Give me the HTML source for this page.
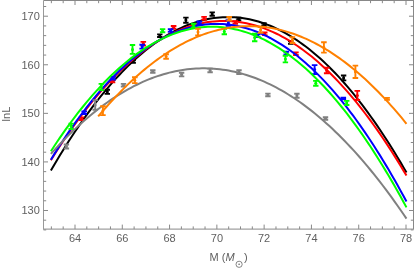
<!DOCTYPE html><html><head><meta charset="utf-8"><style>html,body{margin:0;padding:0;background:#fff;overflow:hidden}svg{display:block}</style></head><body><svg width="415" height="269" viewBox="0 0 415 269">
<rect width="415" height="269" fill="#fff"/>
<g><path d="M107.3 89.7V93.9M104.6 89.7h5.4M104.6 93.9h5.4M133.2 60.3V62.9M130.5 60.3h5.4M130.5 62.9h5.4M159.8 34.4V37.0M157.1 34.4h5.4M157.1 37.0h5.4M185.9 17.6V22.7M183.2 17.6h5.4M183.2 22.7h5.4M212.2 12.4V15.7M209.5 12.4h5.4M209.5 15.7h5.4M238.6 17.6V20.2M235.9 17.6h5.4M235.9 20.2h5.4M264.0 23.2V25.8M261.3 23.2h5.4M261.3 25.8h5.4M290.7 41.1V43.7M288.0 41.1h5.4M288.0 43.7h5.4M343.6 75.5V80.4M340.9 75.5h5.4M340.9 80.4h5.4" stroke="#000" stroke-width="1.9" fill="none"/><circle cx="107.3" cy="91.8" r="1.5" fill="#000"/><circle cx="133.2" cy="61.6" r="1.5" fill="#000"/><circle cx="159.8" cy="35.7" r="1.5" fill="#000"/><circle cx="185.9" cy="20.1" r="1.5" fill="#000"/><circle cx="212.2" cy="14.1" r="1.5" fill="#000"/><circle cx="238.6" cy="18.9" r="1.5" fill="#000"/><circle cx="264.0" cy="24.5" r="1.5" fill="#000"/><circle cx="290.7" cy="42.4" r="1.5" fill="#000"/><circle cx="343.6" cy="77.9" r="1.5" fill="#000"/><path d="M50.88 170.52 L53.85 165.43 L56.81 160.43 L59.77 155.51 L62.74 150.68 L65.70 145.94 L68.66 141.28 L71.63 136.71 L74.59 132.22 L77.55 127.82 L80.52 123.50 L83.48 119.27 L86.44 115.13 L89.41 111.07 L92.37 107.10 L95.33 103.21 L98.30 99.41 L101.26 95.69 L104.22 92.06 L107.19 88.52 L110.15 85.06 L113.11 81.69 L116.08 78.41 L119.04 75.21 L122.00 72.09 L124.97 69.06 L127.93 66.12 L130.89 63.26 L133.86 60.49 L136.82 57.80 L139.78 55.20 L142.75 52.69 L145.71 50.26 L148.67 47.92 L151.63 45.66 L154.60 43.49 L157.56 41.41 L160.52 39.41 L163.49 37.49 L166.45 35.67 L169.41 33.93 L172.38 32.27 L175.34 30.70 L178.30 29.21 L181.27 27.82 L184.23 26.50 L187.19 25.27 L190.16 24.13 L193.12 23.08 L196.08 22.11 L199.05 21.22 L202.01 20.43 L204.97 19.71 L207.94 19.09 L210.90 18.55 L213.86 18.09 L216.83 17.72 L219.79 17.44 L222.75 17.24 L225.72 17.13 L228.68 17.10 L231.64 17.16 L234.61 17.31 L237.57 17.54 L240.53 17.85 L243.50 18.26 L246.46 18.75 L249.42 19.32 L252.39 19.98 L255.35 20.73 L258.31 21.56 L261.28 22.48 L264.24 23.48 L267.20 24.57 L270.17 25.74 L273.13 27.00 L276.09 28.35 L279.05 29.78 L282.02 31.30 L284.98 32.90 L287.94 34.59 L290.91 36.37 L293.87 38.23 L296.83 40.18 L299.80 42.21 L302.76 44.33 L305.72 46.53 L308.69 48.82 L311.65 51.20 L314.61 53.66 L317.58 56.21 L320.54 58.84 L323.50 61.56 L326.47 64.36 L329.43 67.26 L332.39 70.23 L335.36 73.29 L338.32 76.44 L341.28 79.68 L344.25 83.00 L347.21 86.40 L350.17 89.89 L353.14 93.47 L356.10 97.13 L359.06 100.88 L362.03 104.71 L364.99 108.63 L367.95 112.64 L370.92 116.73 L373.88 120.91 L376.84 125.17 L379.81 129.52 L382.77 133.96 L385.73 138.48 L388.70 143.08 L391.66 147.78 L394.62 152.55 L397.59 157.42 L400.55 162.37 L403.51 167.40 L406.47 172.52" stroke="#000" stroke-width="2.0" fill="none" stroke-linecap="butt" stroke-linejoin="round"/></g>
<g><path d="M81.5 117.4V120.0M78.7 117.4h5.6M78.7 120.0h5.6M112.5 79.8V82.4M109.7 79.8h5.6M109.7 82.4h5.6M143.3 41.9V45.5M140.5 41.9h5.6M140.5 45.5h5.6M173.6 26.0V28.8M170.8 26.0h5.6M170.8 28.8h5.6M204.1 16.9V19.7M201.3 16.9h5.6M201.3 19.7h5.6M235.3 21.1V23.7M232.5 21.1h5.6M232.5 23.7h5.6M264.7 32.5V35.1M261.9 32.5h5.6M261.9 35.1h5.6M295.9 52.4V55.0M293.1 52.4h5.6M293.1 55.0h5.6M326.7 67.8V73.3M323.9 67.8h5.6M323.9 73.3h5.6M357.3 90.9V100.0M354.5 90.9h5.6M354.5 100.0h5.6" stroke="#f00" stroke-width="1.9" fill="none"/><circle cx="81.5" cy="118.7" r="1.5" fill="#f00"/><circle cx="112.5" cy="81.1" r="1.5" fill="#f00"/><circle cx="143.3" cy="43.7" r="1.5" fill="#f00"/><circle cx="173.6" cy="27.4" r="1.5" fill="#f00"/><circle cx="204.1" cy="18.3" r="1.5" fill="#f00"/><circle cx="235.3" cy="22.4" r="1.5" fill="#f00"/><circle cx="264.7" cy="33.8" r="1.5" fill="#f00"/><circle cx="295.9" cy="53.7" r="1.5" fill="#f00"/><circle cx="326.7" cy="70.6" r="1.5" fill="#f00"/><circle cx="357.3" cy="95.5" r="1.5" fill="#f00"/><path d="M50.88 160.16 L53.85 155.43 L56.81 150.79 L59.77 146.23 L62.74 141.74 L65.70 137.34 L68.66 133.02 L71.63 128.79 L74.59 124.63 L77.55 120.56 L80.52 116.57 L83.48 112.66 L86.44 108.83 L89.41 105.08 L92.37 101.41 L95.33 97.83 L98.30 94.33 L101.26 90.91 L104.22 87.57 L107.19 84.31 L110.15 81.13 L113.11 78.04 L116.08 75.03 L119.04 72.10 L122.00 69.25 L124.97 66.48 L127.93 63.79 L130.89 61.19 L133.86 58.66 L136.82 56.22 L139.78 53.86 L142.75 51.58 L145.71 49.39 L148.67 47.27 L151.63 45.24 L154.60 43.28 L157.56 41.41 L160.52 39.62 L163.49 37.92 L166.45 36.29 L169.41 34.75 L172.38 33.29 L175.34 31.90 L178.30 30.61 L181.27 29.39 L184.23 28.25 L187.19 27.20 L190.16 26.22 L193.12 25.33 L196.08 24.52 L199.05 23.79 L202.01 23.15 L204.97 22.58 L207.94 22.10 L210.90 21.70 L213.86 21.38 L216.83 21.14 L219.79 20.98 L222.75 20.91 L225.72 20.91 L228.68 21.00 L231.64 21.17 L234.61 21.42 L237.57 21.75 L240.53 22.17 L243.50 22.66 L246.46 23.24 L249.42 23.90 L252.39 24.64 L255.35 25.46 L258.31 26.37 L261.28 27.35 L264.24 28.42 L267.20 29.57 L270.17 30.80 L273.13 32.11 L276.09 33.50 L279.05 34.98 L282.02 36.54 L284.98 38.17 L287.94 39.89 L290.91 41.70 L293.87 43.58 L296.83 45.54 L299.80 47.59 L302.76 49.72 L305.72 51.93 L308.69 54.22 L311.65 56.59 L314.61 59.05 L317.58 61.58 L320.54 64.20 L323.50 66.90 L326.47 69.68 L329.43 72.54 L332.39 75.48 L335.36 78.51 L338.32 81.62 L341.28 84.81 L344.25 88.08 L347.21 91.43 L350.17 94.86 L353.14 98.38 L356.10 101.97 L359.06 105.65 L362.03 109.41 L364.99 113.25 L367.95 117.18 L370.92 121.18 L373.88 125.27 L376.84 129.43 L379.81 133.68 L382.77 138.01 L385.73 142.43 L388.70 146.92 L391.66 151.50 L394.62 156.16 L397.59 160.89 L400.55 165.71 L403.51 170.62 L406.47 175.60" stroke="#f00" stroke-width="2.0" fill="none" stroke-linecap="butt" stroke-linejoin="round"/></g>
<g><path d="M84.2 111.4V114.0M81.4 111.4h5.6M81.4 114.0h5.6M113.0 76.9V79.5M110.2 76.9h5.6M110.2 79.5h5.6M142.2 44.8V48.6M139.4 44.8h5.6M139.4 48.6h5.6M170.6 29.1V31.7M167.8 29.1h5.6M167.8 31.7h5.6M199.2 21.5V24.1M196.4 21.5h5.6M196.4 24.1h5.6M228.4 20.2V25.9M225.6 20.2h5.6M225.6 25.9h5.6M257.7 34.4V37.0M254.9 34.4h5.6M254.9 37.0h5.6M286.3 51.8V54.4M283.5 51.8h5.6M283.5 54.4h5.6M314.6 65.1V74.1M311.8 65.1h5.6M311.8 74.1h5.6M343.3 97.6V99.4M340.5 97.6h5.6M340.5 99.4h5.6" stroke="#00f" stroke-width="1.9" fill="none"/><circle cx="84.2" cy="112.7" r="1.5" fill="#00f"/><circle cx="113.0" cy="78.2" r="1.5" fill="#00f"/><circle cx="142.2" cy="46.7" r="1.5" fill="#00f"/><circle cx="170.6" cy="30.4" r="1.5" fill="#00f"/><circle cx="199.2" cy="22.8" r="1.5" fill="#00f"/><circle cx="228.4" cy="23.1" r="1.5" fill="#00f"/><circle cx="257.7" cy="35.7" r="1.5" fill="#00f"/><circle cx="286.3" cy="53.1" r="1.5" fill="#00f"/><circle cx="314.6" cy="69.6" r="1.5" fill="#00f"/><circle cx="343.3" cy="98.5" r="1.5" fill="#00f"/><path d="M50.88 159.67 L53.85 154.86 L56.81 150.14 L59.77 145.51 L62.74 140.96 L65.70 136.50 L68.66 132.12 L71.63 127.84 L74.59 123.63 L77.55 119.52 L80.52 115.49 L83.48 111.55 L86.44 107.70 L89.41 103.93 L92.37 100.25 L95.33 96.65 L98.30 93.14 L101.26 89.72 L104.22 86.39 L107.19 83.14 L110.15 79.98 L113.11 76.90 L116.08 73.92 L119.04 71.01 L122.00 68.20 L124.97 65.47 L127.93 62.83 L130.89 60.28 L133.86 57.81 L136.82 55.43 L139.78 53.13 L142.75 50.92 L145.71 48.80 L148.67 46.77 L151.63 44.82 L154.60 42.96 L157.56 41.19 L160.52 39.50 L163.49 37.90 L166.45 36.38 L169.41 34.95 L172.38 33.61 L175.34 32.36 L178.30 31.19 L181.27 30.11 L184.23 29.12 L187.19 28.21 L190.16 27.39 L193.12 26.65 L196.08 26.01 L199.05 25.45 L202.01 24.97 L204.97 24.58 L207.94 24.28 L210.90 24.07 L213.86 23.94 L216.83 23.90 L219.79 23.95 L222.75 24.08 L225.72 24.30 L228.68 24.60 L231.64 25.00 L234.61 25.48 L237.57 26.04 L240.53 26.69 L243.50 27.43 L246.46 28.26 L249.42 29.17 L252.39 30.17 L255.35 31.26 L258.31 32.43 L261.28 33.69 L264.24 35.04 L267.20 36.47 L270.17 37.99 L273.13 39.59 L276.09 41.29 L279.05 43.07 L282.02 44.93 L284.98 46.89 L287.94 48.93 L290.91 51.05 L293.87 53.26 L296.83 55.56 L299.80 57.95 L302.76 60.42 L305.72 62.98 L308.69 65.63 L311.65 68.36 L314.61 71.18 L317.58 74.09 L320.54 77.08 L323.50 80.16 L326.47 83.33 L329.43 86.58 L332.39 89.92 L335.36 93.35 L338.32 96.86 L341.28 100.46 L344.25 104.15 L347.21 107.92 L350.17 111.78 L353.14 115.72 L356.10 119.76 L359.06 123.88 L362.03 128.08 L364.99 132.38 L367.95 136.76 L370.92 141.22 L373.88 145.78 L376.84 150.42 L379.81 155.14 L382.77 159.96 L385.73 164.86 L388.70 169.84 L391.66 174.92 L394.62 180.08 L397.59 185.32 L400.55 190.66 L403.51 196.08 L406.47 201.58" stroke="#00f" stroke-width="2.0" fill="none" stroke-linecap="butt" stroke-linejoin="round"/></g>
<g><path d="M71.2 123.6V129.0M68.5 123.6h5.4M68.5 129.0h5.4M101.3 83.9V90.1M98.6 83.9h5.4M98.6 90.1h5.4M132.5 45.0V53.9M129.8 45.0h5.4M129.8 53.9h5.4M162.6 29.1V32.3M159.9 29.1h5.4M159.9 32.3h5.4M193.5 23.8V27.4M190.8 23.8h5.4M190.8 27.4h5.4M224.3 28.7V34.2M221.6 28.7h5.4M221.6 34.2h5.4M254.7 33.8V41.3M252.0 33.8h5.4M252.0 41.3h5.4M285.4 55.8V62.4M282.7 55.8h5.4M282.7 62.4h5.4M315.8 80.9V85.8M313.1 80.9h5.4M313.1 85.8h5.4M346.7 100.9V105.0M344.0 100.9h5.4M344.0 105.0h5.4" stroke="#0f0" stroke-width="1.9" fill="none"/><circle cx="71.2" cy="126.3" r="1.5" fill="#0f0"/><circle cx="101.3" cy="87.0" r="1.5" fill="#0f0"/><circle cx="132.5" cy="49.5" r="1.5" fill="#0f0"/><circle cx="162.6" cy="30.7" r="1.5" fill="#0f0"/><circle cx="193.5" cy="25.6" r="1.5" fill="#0f0"/><circle cx="224.3" cy="31.5" r="1.5" fill="#0f0"/><circle cx="254.7" cy="37.5" r="1.5" fill="#0f0"/><circle cx="285.4" cy="59.1" r="1.5" fill="#0f0"/><circle cx="315.8" cy="83.3" r="1.5" fill="#0f0"/><circle cx="346.7" cy="103.0" r="1.5" fill="#0f0"/><path d="M50.88 151.23 L53.85 146.70 L56.81 142.25 L59.77 137.89 L62.74 133.61 L65.70 129.41 L68.66 125.30 L71.63 121.27 L74.59 117.33 L77.55 113.47 L80.52 109.69 L83.48 106.00 L86.44 102.39 L89.41 98.87 L92.37 95.43 L95.33 92.08 L98.30 88.80 L101.26 85.62 L104.22 82.51 L107.19 79.49 L110.15 76.56 L113.11 73.71 L116.08 70.94 L119.04 68.26 L122.00 65.66 L124.97 63.14 L127.93 60.71 L130.89 58.37 L133.86 56.10 L136.82 53.92 L139.78 51.83 L142.75 49.82 L145.71 47.89 L148.67 46.05 L151.63 44.29 L154.60 42.61 L157.56 41.02 L160.52 39.52 L163.49 38.09 L166.45 36.75 L169.41 35.50 L172.38 34.33 L175.34 33.24 L178.30 32.24 L181.27 31.32 L184.23 30.49 L187.19 29.74 L190.16 29.07 L193.12 28.49 L196.08 27.99 L199.05 27.58 L202.01 27.24 L204.97 27.00 L207.94 26.84 L210.90 26.76 L213.86 26.76 L216.83 26.85 L219.79 27.03 L222.75 27.29 L225.72 27.63 L228.68 28.05 L231.64 28.56 L234.61 29.16 L237.57 29.83 L240.53 30.60 L243.50 31.44 L246.46 32.37 L249.42 33.39 L252.39 34.48 L255.35 35.67 L258.31 36.93 L261.28 38.28 L264.24 39.72 L267.20 41.24 L270.17 42.84 L273.13 44.52 L276.09 46.29 L279.05 48.15 L282.02 50.09 L284.98 52.11 L287.94 54.22 L290.91 56.41 L293.87 58.68 L296.83 61.04 L299.80 63.48 L302.76 66.01 L305.72 68.62 L308.69 71.31 L311.65 74.09 L314.61 76.96 L317.58 79.90 L320.54 82.93 L323.50 86.05 L326.47 89.25 L329.43 92.53 L332.39 95.90 L335.36 99.35 L338.32 102.88 L341.28 106.50 L344.25 110.20 L347.21 113.99 L350.17 117.86 L353.14 121.82 L356.10 125.86 L359.06 129.98 L362.03 134.19 L364.99 138.48 L367.95 142.85 L370.92 147.31 L373.88 151.86 L376.84 156.48 L379.81 161.19 L382.77 165.99 L385.73 170.87 L388.70 175.83 L391.66 180.88 L394.62 186.01 L397.59 191.23 L400.55 196.53 L403.51 201.91 L406.47 207.38" stroke="#0f0" stroke-width="2.0" fill="none" stroke-linecap="butt" stroke-linejoin="round"/></g>
<g><path d="M66.4 144.5V148.5M63.7 144.5h5.4M63.7 148.5h5.4M95.2 100.1V109.8M92.5 100.1h5.4M92.5 109.8h5.4M123.5 83.9V86.5M120.8 83.9h5.4M120.8 86.5h5.4M152.8 70.2V72.8M150.1 70.2h5.4M150.1 72.8h5.4M181.6 72.8V76.4M178.9 72.8h5.4M178.9 76.4h5.4M210.1 68.6V72.2M207.4 68.6h5.4M207.4 72.2h5.4M239.0 70.2V74.0M236.3 70.2h5.4M236.3 74.0h5.4M267.9 93.6V96.2M265.2 93.6h5.4M265.2 96.2h5.4M296.9 93.7V97.7M294.2 93.7h5.4M294.2 97.7h5.4M325.5 117.2V119.8M322.8 117.2h5.4M322.8 119.8h5.4" stroke="#808080" stroke-width="1.9" fill="none"/><circle cx="66.4" cy="146.5" r="1.5" fill="#808080"/><circle cx="95.2" cy="105.0" r="1.5" fill="#808080"/><circle cx="123.5" cy="85.2" r="1.5" fill="#808080"/><circle cx="152.8" cy="71.5" r="1.5" fill="#808080"/><circle cx="181.6" cy="74.6" r="1.5" fill="#808080"/><circle cx="210.1" cy="70.4" r="1.5" fill="#808080"/><circle cx="239.0" cy="72.1" r="1.5" fill="#808080"/><circle cx="267.9" cy="94.9" r="1.5" fill="#808080"/><circle cx="296.9" cy="95.7" r="1.5" fill="#808080"/><circle cx="325.5" cy="118.5" r="1.5" fill="#808080"/><path d="M50.88 153.85 L53.85 150.57 L56.81 147.35 L59.77 144.20 L62.74 141.11 L65.70 138.08 L68.66 135.12 L71.63 132.22 L74.59 129.39 L77.55 126.62 L80.52 123.92 L83.48 121.28 L86.44 118.70 L89.41 116.19 L92.37 113.74 L95.33 111.36 L98.30 109.04 L101.26 106.78 L104.22 104.59 L107.19 102.47 L110.15 100.41 L113.11 98.41 L116.08 96.47 L119.04 94.60 L122.00 92.80 L124.97 91.06 L127.93 89.38 L130.89 87.77 L133.86 86.22 L136.82 84.74 L139.78 83.32 L142.75 81.96 L145.71 80.67 L148.67 79.44 L151.63 78.28 L154.60 77.18 L157.56 76.15 L160.52 75.18 L163.49 74.27 L166.45 73.43 L169.41 72.65 L172.38 71.94 L175.34 71.29 L178.30 70.71 L181.27 70.19 L184.23 69.73 L187.19 69.34 L190.16 69.01 L193.12 68.75 L196.08 68.55 L199.05 68.41 L202.01 68.34 L204.97 68.34 L207.94 68.39 L210.90 68.51 L213.86 68.70 L216.83 68.95 L219.79 69.27 L222.75 69.65 L225.72 70.09 L228.68 70.60 L231.64 71.17 L234.61 71.80 L237.57 72.50 L240.53 73.27 L243.50 74.10 L246.46 74.99 L249.42 75.95 L252.39 76.97 L255.35 78.05 L258.31 79.20 L261.28 80.42 L264.24 81.70 L267.20 83.04 L270.17 84.45 L273.13 85.92 L276.09 87.45 L279.05 89.05 L282.02 90.72 L284.98 92.44 L287.94 94.24 L290.91 96.09 L293.87 98.01 L296.83 100.00 L299.80 102.05 L302.76 104.16 L305.72 106.34 L308.69 108.58 L311.65 110.89 L314.61 113.26 L317.58 115.69 L320.54 118.19 L323.50 120.75 L326.47 123.38 L329.43 126.07 L332.39 128.83 L335.36 131.65 L338.32 134.53 L341.28 137.48 L344.25 140.50 L347.21 143.57 L350.17 146.71 L353.14 149.92 L356.10 153.19 L359.06 156.52 L362.03 159.92 L364.99 163.38 L367.95 166.91 L370.92 170.50 L373.88 174.16 L376.84 177.88 L379.81 181.66 L382.77 185.51 L385.73 189.42 L388.70 193.40 L391.66 197.44 L394.62 201.54 L397.59 205.71 L400.55 209.95 L403.51 214.24 L406.47 218.60" stroke="#808080" stroke-width="2.0" fill="none" stroke-linecap="butt" stroke-linejoin="round"/></g>
<g><path d="M102.9 106.2V115.1M100.1 106.2h5.6M100.1 115.1h5.6M134.8 77.3V83.1M132.0 77.3h5.6M132.0 83.1h5.6M166.1 54.3V58.8M163.3 54.3h5.6M163.3 58.8h5.6M198.0 28.7V35.4M195.2 28.7h5.6M195.2 35.4h5.6M229.2 17.0V20.5M226.4 17.0h5.6M226.4 20.5h5.6M260.6 27.1V32.7M257.8 27.1h5.6M257.8 32.7h5.6M292.4 37.3V43.0M289.6 37.3h5.6M289.6 43.0h5.6M323.9 42.3V52.6M321.1 42.3h5.6M321.1 52.6h5.6M355.4 65.6V78.0M352.6 65.6h5.6M352.6 78.0h5.6M387.1 97.9V99.9M384.3 97.9h5.6M384.3 99.9h5.6" stroke="#ff8000" stroke-width="1.9" fill="none"/><circle cx="102.9" cy="110.7" r="1.5" fill="#ff8000"/><circle cx="134.8" cy="80.2" r="1.5" fill="#ff8000"/><circle cx="166.1" cy="56.5" r="1.5" fill="#ff8000"/><circle cx="198.0" cy="32.0" r="1.5" fill="#ff8000"/><circle cx="229.2" cy="18.8" r="1.5" fill="#ff8000"/><circle cx="260.6" cy="29.9" r="1.5" fill="#ff8000"/><circle cx="292.4" cy="40.1" r="1.5" fill="#ff8000"/><circle cx="323.9" cy="47.5" r="1.5" fill="#ff8000"/><circle cx="355.4" cy="71.8" r="1.5" fill="#ff8000"/><circle cx="387.1" cy="98.9" r="1.5" fill="#ff8000"/><path d="M98.17 116.47 L100.74 113.42 L103.31 110.43 L105.88 107.49 L108.45 104.60 L111.02 101.76 L113.59 98.98 L116.15 96.25 L118.72 93.57 L121.29 90.94 L123.86 88.36 L126.43 85.84 L129.00 83.37 L131.57 80.95 L134.14 78.59 L136.71 76.27 L139.28 74.01 L141.85 71.80 L144.42 69.64 L146.99 67.54 L149.55 65.48 L152.12 63.48 L154.69 61.53 L157.26 59.64 L159.83 57.79 L162.40 56.00 L164.97 54.26 L167.54 52.57 L170.11 50.94 L172.68 49.35 L175.25 47.82 L177.82 46.34 L180.38 44.92 L182.95 43.54 L185.52 42.22 L188.09 40.95 L190.66 39.73 L193.23 38.56 L195.80 37.45 L198.37 36.39 L200.94 35.38 L203.51 34.42 L206.08 33.52 L208.65 32.66 L211.22 31.86 L213.78 31.12 L216.35 30.42 L218.92 29.78 L221.49 29.18 L224.06 28.64 L226.63 28.16 L229.20 27.72 L231.77 27.34 L234.34 27.01 L236.91 26.73 L239.48 26.50 L242.05 26.33 L244.61 26.21 L247.18 26.14 L249.75 26.12 L252.32 26.16 L254.89 26.24 L257.46 26.38 L260.03 26.57 L262.60 26.82 L265.17 27.11 L267.74 27.46 L270.31 27.86 L272.88 28.31 L275.45 28.82 L278.01 29.37 L280.58 29.98 L283.15 30.64 L285.72 31.36 L288.29 32.12 L290.86 32.94 L293.43 33.81 L296.00 34.73 L298.57 35.71 L301.14 36.73 L303.71 37.81 L306.28 38.94 L308.85 40.13 L311.41 41.36 L313.98 42.65 L316.55 43.99 L319.12 45.38 L321.69 46.82 L324.26 48.32 L326.83 49.87 L329.40 51.47 L331.97 53.12 L334.54 54.83 L337.11 56.58 L339.68 58.39 L342.24 60.26 L344.81 62.17 L347.38 64.14 L349.95 66.15 L352.52 68.22 L355.09 70.35 L357.66 72.52 L360.23 74.75 L362.80 77.03 L365.37 79.36 L367.94 81.74 L370.51 84.18 L373.08 86.67 L375.64 89.21 L378.21 91.80 L380.78 94.44 L383.35 97.14 L385.92 99.89 L388.49 102.69 L391.06 105.55 L393.63 108.45 L396.20 111.41 L398.77 114.42 L401.34 117.48 L403.91 120.60 L406.47 123.76" stroke="#ff8000" stroke-width="2.0" fill="none" stroke-linecap="butt" stroke-linejoin="round"/></g>
<path d="M43.5 0.5H414.0M413.5 0.5V229.1M414.0 229.1H43.0" stroke="#888" stroke-width="1" fill="none"/>
<path d="M43.5 0.5V229.1" stroke="#999" stroke-width="1" fill="none"/>
<path d="M51.36 229.1v-2.7M51.36 0.5v2.7M63.18 229.1v-2.7M63.18 0.5v2.7M75.00 229.1v-4.5M75.00 0.5v4.5M86.82 229.1v-2.7M86.82 0.5v2.7M98.64 229.1v-2.7M98.64 0.5v2.7M110.46 229.1v-2.7M110.46 0.5v2.7M122.29 229.1v-4.5M122.29 0.5v4.5M134.11 229.1v-2.7M134.11 0.5v2.7M145.93 229.1v-2.7M145.93 0.5v2.7M157.75 229.1v-2.7M157.75 0.5v2.7M169.57 229.1v-4.5M169.57 0.5v4.5M181.39 229.1v-2.7M181.39 0.5v2.7M193.22 229.1v-2.7M193.22 0.5v2.7M205.04 229.1v-2.7M205.04 0.5v2.7M216.86 229.1v-4.5M216.86 0.5v4.5M228.68 229.1v-2.7M228.68 0.5v2.7M240.50 229.1v-2.7M240.50 0.5v2.7M252.32 229.1v-2.7M252.32 0.5v2.7M264.14 229.1v-4.5M264.14 0.5v4.5M275.97 229.1v-2.7M275.97 0.5v2.7M287.79 229.1v-2.7M287.79 0.5v2.7M299.61 229.1v-2.7M299.61 0.5v2.7M311.43 229.1v-4.5M311.43 0.5v4.5M323.25 229.1v-2.7M323.25 0.5v2.7M335.07 229.1v-2.7M335.07 0.5v2.7M346.89 229.1v-2.7M346.89 0.5v2.7M358.72 229.1v-4.5M358.72 0.5v4.5M370.54 229.1v-2.7M370.54 0.5v2.7M382.36 229.1v-2.7M382.36 0.5v2.7M394.18 229.1v-2.7M394.18 0.5v2.7M406.00 229.1v-4.5M406.00 0.5v4.5M43.5 229.92h2.7M413.5 229.92h-2.7M43.5 220.20h2.7M413.5 220.20h-2.7M43.5 210.49h4.5M413.5 210.49h-4.5M43.5 200.78h2.7M413.5 200.78h-2.7M43.5 191.06h2.7M413.5 191.06h-2.7M43.5 181.35h2.7M413.5 181.35h-2.7M43.5 171.63h2.7M413.5 171.63h-2.7M43.5 161.92h4.5M413.5 161.92h-4.5M43.5 152.21h2.7M413.5 152.21h-2.7M43.5 142.49h2.7M413.5 142.49h-2.7M43.5 132.78h2.7M413.5 132.78h-2.7M43.5 123.06h2.7M413.5 123.06h-2.7M43.5 113.35h4.5M413.5 113.35h-4.5M43.5 103.64h2.7M413.5 103.64h-2.7M43.5 93.92h2.7M413.5 93.92h-2.7M43.5 84.21h2.7M413.5 84.21h-2.7M43.5 74.49h2.7M413.5 74.49h-2.7M43.5 64.78h4.5M413.5 64.78h-4.5M43.5 55.07h2.7M413.5 55.07h-2.7M43.5 45.35h2.7M413.5 45.35h-2.7M43.5 35.64h2.7M413.5 35.64h-2.7M43.5 25.92h2.7M413.5 25.92h-2.7M43.5 16.21h4.5M413.5 16.21h-4.5M43.5 6.50h2.7M413.5 6.50h-2.7" stroke="#888" stroke-width="1" fill="none"/>
<g font-family="Liberation Sans, sans-serif" font-size="11" fill="#5f5f5f" style="filter:grayscale(1)">
<text x="75.0" y="242" text-anchor="middle">64</text>
<text x="122.3" y="242" text-anchor="middle">66</text>
<text x="169.6" y="242" text-anchor="middle">68</text>
<text x="216.9" y="242" text-anchor="middle">70</text>
<text x="264.1" y="242" text-anchor="middle">72</text>
<text x="311.4" y="242" text-anchor="middle">74</text>
<text x="358.7" y="242" text-anchor="middle">76</text>
<text x="406.0" y="242" text-anchor="middle">78</text>
<text x="39.8" y="214.4" text-anchor="end">130</text>
<text x="39.8" y="165.9" text-anchor="end">140</text>
<text x="39.8" y="117.3" text-anchor="end">150</text>
<text x="39.8" y="68.7" text-anchor="end">160</text>
<text x="39.8" y="20.2" text-anchor="end">170</text>
<text x="209.6" y="260.8">M (<tspan font-style="italic">M</tspan></text><text x="243.9" y="260.8">)</text>
<circle cx="239.1" cy="264.3" r="3.1" fill="none" stroke="#5f5f5f" stroke-width="0.75"/><circle cx="239.1" cy="264.3" r="0.8" fill="#5f5f5f"/>
<text transform="translate(9.7,121.4) rotate(-90)">lnL</text>
</g>
</svg></body></html>
